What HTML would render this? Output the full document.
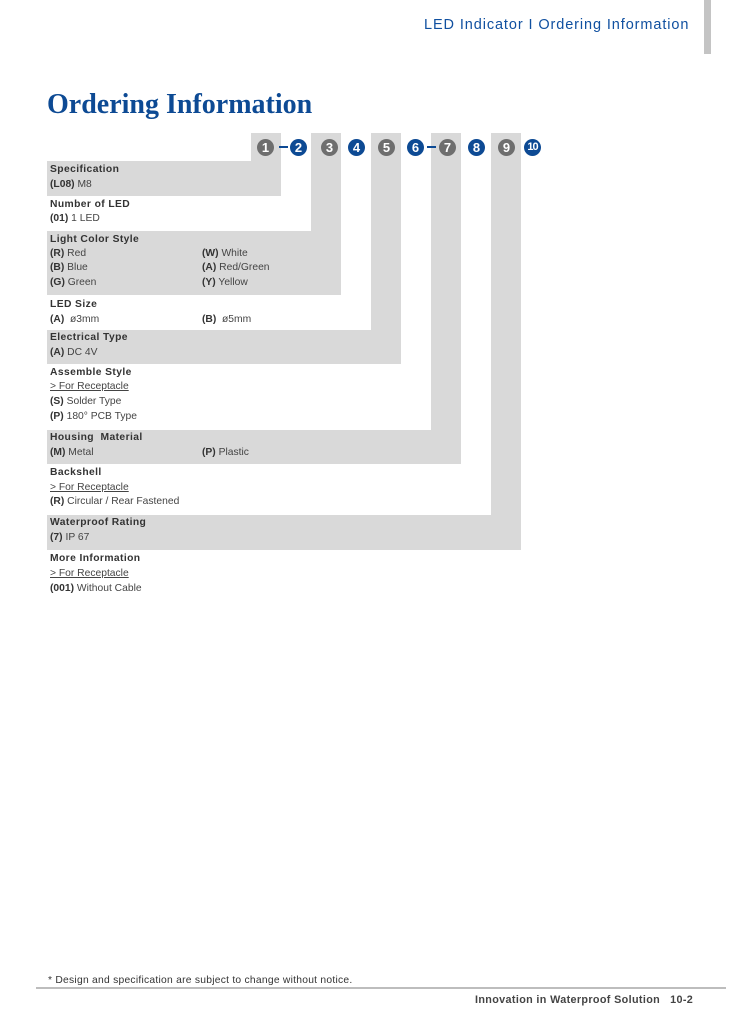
<!DOCTYPE html>
<html><head><meta charset="utf-8"><style>
body{margin:0;width:746px;height:1024px;background:#fff;position:relative;overflow:hidden;font-family:"Liberation Sans",sans-serif;}
.a{position:absolute;}
.g{position:absolute;background:#d9d9d9;}
.t{position:absolute;font-size:10.3px;color:#444;white-space:nowrap;line-height:12px;}
.h{font-weight:bold;color:#333;letter-spacing:0.4px;}
.b{font-weight:bold;color:#333;}
.u{text-decoration:underline;}
.c{position:absolute;width:17px;height:17px;border-radius:50%;color:#fff;font-weight:bold;font-size:13px;line-height:17px;text-align:center;top:139px;}
.cg{background:#6e6e6e}.cb{background:#0d4a94}
</style></head><body>
<div class="a" style="left:704px;top:0;width:7px;height:54px;background:#c4c4c4"></div>
<div class="a" style="left:424px;top:17px;font-size:14.5px;color:#1050a0;letter-spacing:0.9px;white-space:nowrap">LED Indicator I Ordering Information</div>
<div class="a" style="left:47px;top:89px;font-family:'Liberation Serif',serif;font-weight:bold;font-size:28px;color:#0d4a94;white-space:nowrap;letter-spacing:0px">Ordering Information</div>

<div class="g" style="left:251px;top:133px;width:30px;height:63px"></div>
<div class="g" style="left:311px;top:133px;width:30px;height:162px"></div>
<div class="g" style="left:371px;top:133px;width:30px;height:231px"></div>
<div class="g" style="left:431px;top:133px;width:30px;height:331px"></div>
<div class="g" style="left:491px;top:133px;width:30px;height:417px"></div>
<div class="g" style="left:47px;top:161px;width:234px;height:35px"></div>
<div class="g" style="left:47px;top:231px;width:294px;height:64px"></div>
<div class="g" style="left:47px;top:330px;width:354px;height:34px"></div>
<div class="g" style="left:47px;top:430px;width:414px;height:34px"></div>
<div class="g" style="left:47px;top:515px;width:474px;height:35px"></div>

<div class="c cg" style="left:257px">1</div>
<div class="a" style="left:279px;top:146px;width:9px;height:2px;background:#0d4a94"></div>
<div class="c cb" style="left:290px">2</div>
<div class="c cg" style="left:321px">3</div>
<div class="c cb" style="left:348px">4</div>
<div class="c cg" style="left:378px">5</div>
<div class="c cb" style="left:407px">6</div>
<div class="a" style="left:427px;top:146px;width:9px;height:2px;background:#0d4a94"></div>
<div class="c cg" style="left:439px">7</div>
<div class="c cb" style="left:468px">8</div>
<div class="c cg" style="left:498px">9</div>
<div class="c cb" style="left:524px;font-size:11px;letter-spacing:-1px">10</div>

<div class="t h" style="left:50px;top:164px">Specification</div>
<div class="t" style="left:50px;top:179px"><span class="b">(L08)</span> M8</div>
<div class="t h" style="left:50px;top:199px">Number of LED</div>
<div class="t" style="left:50px;top:213px"><span class="b">(01)</span> 1 LED</div>
<div class="t h" style="left:50px;top:234px">Light Color Style</div>
<div class="t" style="left:50px;top:248px"><span class="b">(R)</span> Red</div>
<div class="t" style="left:50px;top:262px"><span class="b">(B)</span> Blue</div>
<div class="t" style="left:50px;top:277px"><span class="b">(G)</span> Green</div>
<div class="t" style="left:202px;top:248px"><span class="b">(W)</span> White</div>
<div class="t" style="left:202px;top:262px"><span class="b">(A)</span> Red/Green</div>
<div class="t" style="left:202px;top:277px"><span class="b">(Y)</span> Yellow</div>
<div class="t h" style="left:50px;top:299px">LED Size</div>
<div class="t" style="left:50px;top:314px"><span class="b">(A)</span> &nbsp;ø3mm</div>
<div class="t" style="left:202px;top:314px"><span class="b">(B)</span> &nbsp;ø5mm</div>
<div class="t h" style="left:50px;top:332px">Electrical Type</div>
<div class="t" style="left:50px;top:347px"><span class="b">(A)</span> DC 4V</div>
<div class="t h" style="left:50px;top:367px">Assemble Style</div>
<div class="t u" style="left:50px;top:381px">&gt; For Receptacle</div>
<div class="t" style="left:50px;top:396px"><span class="b">(S)</span> Solder Type</div>
<div class="t" style="left:50px;top:411px"><span class="b">(P)</span> 180° PCB Type</div>
<div class="t h" style="left:50px;top:432px">Housing &nbsp;Material</div>
<div class="t" style="left:50px;top:447px"><span class="b">(M)</span> Metal</div>
<div class="t" style="left:202px;top:447px"><span class="b">(P)</span> Plastic</div>
<div class="t h" style="left:50px;top:467px">Backshell</div>
<div class="t u" style="left:50px;top:482px">&gt; For Receptacle</div>
<div class="t" style="left:50px;top:496px"><span class="b">(R)</span> Circular / Rear Fastened</div>
<div class="t h" style="left:50px;top:517px">Waterproof Rating</div>
<div class="t" style="left:50px;top:532px"><span class="b">(7)</span> IP 67</div>
<div class="t h" style="left:50px;top:553px">More Information</div>
<div class="t u" style="left:50px;top:568px">&gt; For Receptacle</div>
<div class="t" style="left:50px;top:583px"><span class="b">(001)</span> Without Cable</div>

<div class="t" style="left:48px;top:975px;color:#333;letter-spacing:0.25px">* Design and specification are subject to change without notice.</div>
<div class="a" style="left:36px;top:987px;width:690px;height:2px;background:#bdbdbd"></div>
<div class="t" style="left:475px;top:994px;font-weight:bold;color:#444;font-size:10.8px;letter-spacing:0.35px">Innovation in Waterproof Solution &nbsp;&nbsp;10-2</div>
</body></html>
